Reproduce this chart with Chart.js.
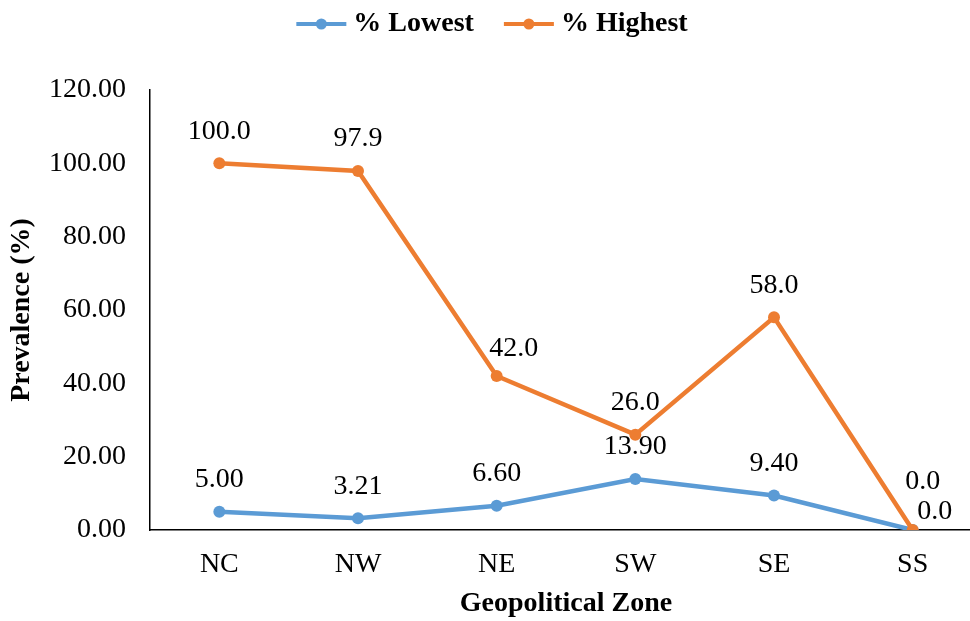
<!doctype html>
<html lang="en">
<head>
    <meta charset="utf-8">
    <title>Prevalence by geopolitical zone</title>
    <script src="https://cdn.jsdelivr.net/npm/chart.js"></script>
    <style>
        html, body { margin: 0; padding: 0; background: #fff; overflow: hidden; }
    </style>
</head>
<body>
    <!-- a bit wider than the window: the x axis runs off the right edge as in the figure -->
    <canvas id="chartEl" width="988" height="621"></canvas>
    <script>
        // data
        const zones = ['NC', 'NW', 'NE', 'SW', 'SE', 'SS'];
        const lowest = [5.00, 3.21, 6.60, 13.90, 9.40, 0.0];
        const highest = [100.0, 97.9, 42.0, 26.0, 58.0, 0.0];
        const lowestLabels = ['5.00', '3.21', '6.60', '13.90', '9.40', '0.0'];
        const highestLabels = ['100.0', '97.9', '42.0', '26.0', '58.0', '0.0'];
        const yTicks = [0, 20, 40, 60, 80, 100, 120];

        const serif = "'Liberation Serif', 'Times New Roman', serif";
        const blue = '#5B9BD5';
        const orange = '#ED7D31';

        // legend: taller box to push the plot down, nudged left,
        // and a line + dot drawn for each entry
        const legendTweaks = {
            id: 'legendTweaks',
            beforeInit(chart) {
                const lg = chart.legend;
                const fit = lg.fit;
                const draw = lg.draw;
                lg.fit = function () {
                    fit.bind(lg)();
                    this.height = 90;
                };
                lg.draw = function () {
                    const ctx = chart.ctx;
                    ctx.save();
                    ctx.translate(-12, 0);
                    draw.bind(lg)();
                    lg.legendItems.forEach((item, i) => {
                        const hb = lg.legendHitBoxes[i];
                        const y = hb.top + hb.height / 2;
                        const x0 = hb.left + 20;
                        ctx.strokeStyle = item.strokeStyle;
                        ctx.fillStyle = item.strokeStyle;
                        ctx.lineWidth = 4;
                        ctx.beginPath();
                        ctx.moveTo(x0, y);
                        ctx.lineTo(x0 + 50, y);
                        ctx.stroke();
                        ctx.beginPath();
                        ctx.arc(x0 + 25, y, 5.5, 0, Math.PI * 2);
                        ctx.fill();
                    });
                    ctx.restore();
                };
            }
        };

        // value labels above the points
        const pointLabels = {
            id: 'pointLabels',
            afterDatasetsDraw(chart, args, opts) {
                const ctx = chart.ctx;
                ctx.save();
                ctx.font = `${opts.size}px ${serif}`;
                ctx.fillStyle = '#000';
                ctx.textAlign = 'center';
                ctx.textBaseline = 'middle';
                chart.data.datasets.forEach((ds, di) => {
                    const meta = chart.getDatasetMeta(di);
                    const shift = opts.shift[di] || {};
                    meta.data.forEach((pt, i) => {
                        const [dx, dy] = shift[i] || [0, -32];
                        ctx.fillText(ds.valueLabels[i], pt.x + dx, pt.y + dy);
                    });
                });
                ctx.restore();
            }
        };

        const data = {
            labels: zones,
            datasets: [{
                label: '% Lowest',
                data: lowest,
                valueLabels: lowestLabels,
                borderColor: blue,
                backgroundColor: blue,
                borderWidth: 4.5,
                pointRadius: 6,
                pointBorderWidth: 0,
                order: 1,
            }, {
                label: '% Highest',
                data: highest,
                valueLabels: highestLabels,
                borderColor: orange,
                backgroundColor: orange,
                borderWidth: 4.5,
                pointRadius: 6,
                pointBorderWidth: 0,
                order: 0,
            }]
        };

        const config = {
            type: 'line',
            data: data,
            plugins: [legendTweaks, pointLabels],
            options: {
                responsive: false,
                animation: false,
                layout: { padding: 0 },
                plugins: {
                    tooltip: { enabled: false },
                    legend: {
                        position: 'top',
                        labels: {
                            usePointStyle: true,
                            pointStyle: 'line',
                            pointStyleWidth: 63,
                            padding: 10,
                            color: '#000',
                            font: { family: serif, size: 28, weight: 'bold' },
                            sort: (a, b) => a.datasetIndex - b.datasetIndex,
                        }
                    },
                    pointLabels: {
                        size: 28,
                        shift: {
                            0: { 5: [22, -18] },
                            1: { 2: [17, -27], 5: [10, -48] },
                        }
                    }
                },
                scales: {
                    x: {
                        offset: true,
                        grid: { display: false, drawTicks: false },
                        border: { color: '#000', width: 1.5 },
                        ticks: { color: '#000', padding: 18, font: { family: serif, size: 28 } },
                        title: {
                            display: true,
                            text: 'Geopolitical Zone',
                            color: '#000',
                            padding: { top: 0, bottom: 0 },
                            font: { family: serif, size: 28, weight: 'bold' }
                        },
                        afterFit: (s) => { s.height = 91; }
                    },
                    y: {
                        min: yTicks[0],
                        max: yTicks[yTicks.length - 1],
                        afterBuildTicks: (s) => { s.ticks = yTicks.map((v) => ({ value: v })); },
                        grid: { display: false, drawTicks: false },
                        border: { color: '#000', width: 1.5 },
                        ticks: {
                            color: '#000',
                            padding: 24,
                            font: { family: serif, size: 28 },
                            callback: (v) => Number(v).toFixed(2)
                        },
                        title: {
                            display: true,
                            text: 'Prevalence (%)',
                            color: '#000',
                            padding: { top: 5, bottom: 0 },
                            font: { family: serif, size: 28, weight: 'bold' }
                        },
                        afterFit: (s) => { s.width = 150; }
                    }
                }
            }
        };

        const myChart = new Chart(document.getElementById('chartEl'), config);
    </script>
</body>
</html>
